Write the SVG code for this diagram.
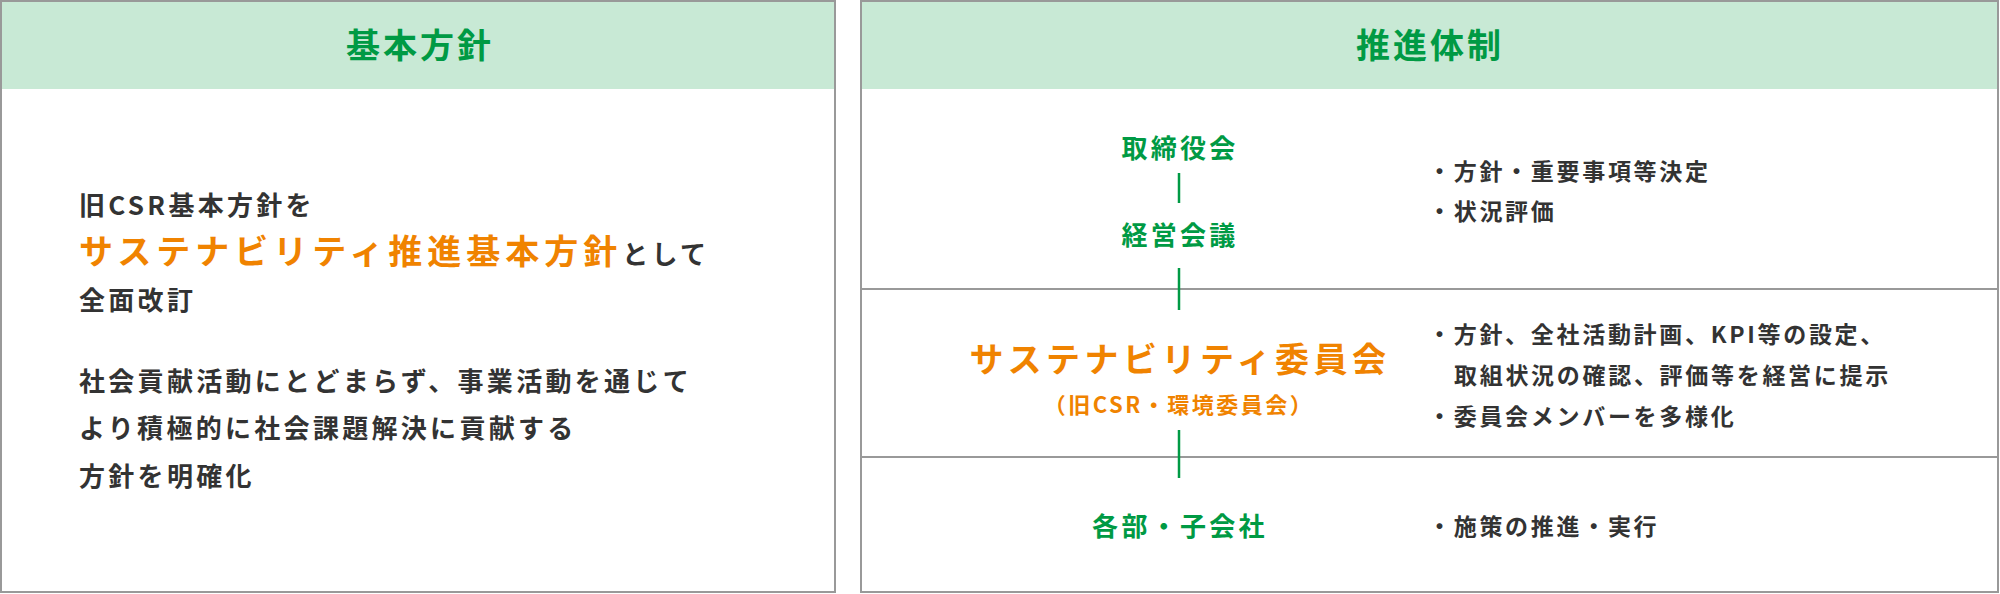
<svg xmlns="http://www.w3.org/2000/svg" width="2000" height="594" viewBox="0 0 2000 594">
<style>
text{font-family:"Noto Sans CJK JP","Noto Sans",sans-serif;}
.panel{fill:#fff;stroke:#999;stroke-width:2;}
.band{fill:#c8e9d5;}
.title{font-size:34px;font-weight:700;fill:#009a44;letter-spacing:3px;text-anchor:middle;}
.body{font-size:26px;font-weight:700;fill:#333;letter-spacing:3.3px;}
.hl{font-size:34px;font-weight:700;fill:#f08300;letter-spacing:5px;}
.org{font-size:26px;font-weight:700;fill:#009a44;letter-spacing:3.3px;text-anchor:middle;}
.orgO{font-size:34px;font-weight:700;fill:#f08300;letter-spacing:4.5px;text-anchor:middle;}
.sub{font-size:22px;font-weight:700;fill:#f08300;letter-spacing:2.5px;text-anchor:middle;}
.bul{font-size:23px;font-weight:700;fill:#333;letter-spacing:2.7px;}
.div{stroke:#999;stroke-width:2;}
.conn{stroke:#009a44;stroke-width:2.5;}
</style>
<g id="policy-panel">
<rect class="panel" x="1" y="1" width="834" height="591"/>
<rect class="band" x="2" y="2" width="832" height="87"/>
<text class="title" x="420" y="58">基本方針</text>
<text class="body" x="79" y="215">旧CSR基本方針を</text>
<text x="79" y="264"><tspan class="hl">サステナビリティ推進基本方針</tspan><tspan class="body">として</tspan></text>
<text class="body" x="79" y="310">全面改訂</text>
<text class="body" x="79" y="391">社会貢献活動にとどまらず、事業活動を通じて</text>
<text class="body" x="79" y="438">より積極的に社会課題解決に貢献する</text>
<text class="body" x="79" y="486">方針を明確化</text>
</g>
<g id="structure-panel">
<rect class="panel" x="861" y="1" width="1137" height="591"/>
<rect class="band" x="862" y="2" width="1135" height="87"/>
<text class="title" x="1430" y="58">推進体制</text>
<line class="div" x1="862" y1="289" x2="1997" y2="289"/>
<line class="div" x1="862" y1="457" x2="1997" y2="457"/>
</g>
<g id="board">
<text class="org" x="1180" y="158">取締役会</text>
</g>
<g id="management">
<text class="org" x="1180" y="245">経営会議</text>
</g>
<g id="committee">
<text class="orgO" x="1180" y="372">サステナビリティ委員会</text>
<text class="sub" x="1179" y="413">（旧CSR・環境委員会）</text>
</g>
<g id="divisions">
<text class="org" x="1180" y="536">各部・子会社</text>
</g>
<g id="roles">
<text class="bul" x="1428" y="180">・方針・重要事項等決定</text>
<text class="bul" x="1428" y="220">・状況評価</text>
<text class="bul" x="1428" y="343">・方針、全社活動計画、KPI等の設定、</text>
<text class="bul" x="1454" y="384">取組状況の確認、評価等を経営に提示</text>
<text class="bul" x="1428" y="425">・委員会メンバーを多様化</text>
<text class="bul" x="1428" y="535">・施策の推進・実行</text>
</g>
<g id="connectors">
<line class="conn" x1="1179" y1="173" x2="1179" y2="203"/>
<line class="conn" x1="1179" y1="268" x2="1179" y2="310"/>
<line class="conn" x1="1179" y1="430" x2="1179" y2="478"/>
</g>
</svg>
